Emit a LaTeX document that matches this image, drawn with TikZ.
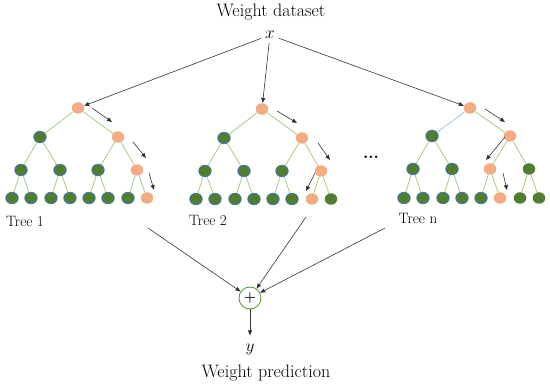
\documentclass[tikz,border=0pt]{standalone}
\usetikzlibrary{arrows.meta,shapes.geometric}
\definecolor{torange}{HTML}{F4AD82}
\definecolor{tgreen}{HTML}{4F7F2C}
\definecolor{tblue}{HTML}{4472C4}
\definecolor{tedge}{HTML}{A3CD86}
\definecolor{tbedge}{HTML}{9DC3E6}
\definecolor{cgreen}{HTML}{5A9A3C}
\begin{document}
\begin{tikzpicture}[x=1pt,y=-1pt,
  gn/.style={ellipse,fill=tgreen,draw=tblue,line width=0.8pt,minimum width=12.5pt,minimum height=11.5pt,inner sep=0pt},
  gp/.style={gn,draw=none},
  on/.style={gn,fill=torange,draw=none},
  tedgeline/.style={draw=tedge,line width=0.8pt},
  arr/.style={draw=black!80,line width=0.6pt,-{Triangle[length=5pt,width=4pt]}},
  lbl/.style={font=\fontsize{18}{21}\selectfont,inner sep=0pt},
  tlbl/.style={font=\fontsize{15}{18}\selectfont,inner sep=0pt}]
\useasboundingbox (0,0) rectangle (550,387);
% titles
\node[lbl] (title) at (271,12) {Weight dataset};
\node[lbl,font=\fontsize{16}{19}\selectfont,inner sep=4pt] (x) at (270,35) {$x$};
\node[lbl] (pred) at (266,373) {Weight prediction};
\node[lbl,font=\fontsize{16}{19}\selectfont,inner sep=3pt] (y) at (250,349) {$y$};
% Tree 1
\begin{scope}
\node[on] (a1) at (78,108) {};
\node[gn] (a2) at (40,137) {};
\node[on] (a3) at (118,137) {};
\node[gn] (a4) at (21,170) {};
\node[gn] (a5) at (60,170) {};
\node[gn] (a6) at (98,170) {};
\node[on] (a7) at (137,170) {};
\node[gn] (a8) at (12,198) {};
\node[gn] (a9) at (31,198) {};
\node[gn] (a10) at (51,198) {};
\node[gn] (a11) at (70,198) {};
\node[gn] (a12) at (89,198) {};
\node[gn] (a13) at (108,198) {};
\node[gn] (a14) at (128,198) {};
\node[on] (a15) at (147,198) {};
\end{scope}
% Tree 2
\begin{scope}[shift={(184,1)}]
\node[on] (b1) at (78,108) {};
\node[gn] (b2) at (40,137) {};
\node[on] (b3) at (118,137) {};
\node[gn] (b4) at (21,170) {};
\node[gn] (b5) at (60,170) {};
\node[gn] (b6) at (98,170) {};
\node[on] (b7) at (137,170) {};
\node[gn] (b8) at (12,198) {};
\node[gn] (b9) at (31,198) {};
\node[gn] (b10) at (51,198) {};
\node[gn] (b11) at (70,198) {};
\node[gn] (b12) at (89,198) {};
\node[gn] (b13) at (108,198) {};
\node[on] (b14) at (128,198) {};
\node[gp] (b15) at (147,198) {};
\end{scope}
% Tree n
\begin{scope}[shift={(392,0)}]
\node[on] (c1) at (78,108) {};
\node[gn] (c2) at (40,136) {};
\node[on] (c3) at (118,136) {};
\node[gn] (c4) at (21,169) {};
\node[gn] (c5) at (60,169) {};
\node[on] (c6) at (98,169) {};
\node[gp] (c7) at (137,169) {};
\node[gn] (c8) at (12,198) {};
\node[gn] (c9) at (31,198) {};
\node[gn] (c10) at (51,198) {};
\node[gn] (c11) at (70,198) {};
\node[gn] (c12) at (89,198) {};
\node[on] (c13) at (108,198) {};
\node[gp] (c14) at (128,198) {};
\node[gp] (c15) at (147,198) {};
\end{scope}
% tree edges
\foreach \t in {a,b,c}{
  \foreach \i in {2,...,15}{
    \pgfmathtruncatemacro\p{int(\i/2)}
    \ifnum\i=2 \if c\t \def\ecol{tbedge}\else\def\ecol{tedge}\fi \else\def\ecol{tedge}\fi
    \draw[tedgeline,draw=\ecol] (\t\p) -- (\t\i);
  }
}
% tree labels
\node[tlbl] (l1) at (25,221) {Tree 1};
\node[tlbl] (l2) at (208,220) {Tree 2};
\node[tlbl] (l3) at (418,218) {Tree n};
\node[tlbl,font=\fontsize{17}{19}\selectfont\bfseries] (dots) at (371,157) {...};
% input arrows
\draw[arr] (x) -- (a1);
\draw[arr] (x) -- (b1);
\draw[arr] (x) -- (c1);
% path arrows
\coordinate (p1s) at (92,108); \coordinate (p1e) at (112,122);
\coordinate (p2s) at (133,142); \coordinate (p2e) at (146,158);
\coordinate (p3s) at (149,173); \coordinate (p3e) at (154,190);
\coordinate (q1s) at (277,111); \coordinate (q1e) at (297,123);
\coordinate (q2s) at (318,143); \coordinate (q2e) at (330,160);
\coordinate (q3s) at (315,173); \coordinate (q3e) at (306,191);
\coordinate (r1s) at (485,109); \coordinate (r1e) at (505,122);
\coordinate (r2s) at (505,137); \coordinate (r2e) at (486,160);
\coordinate (r3s) at (503,173); \coordinate (r3e) at (507,190);
\foreach \s in {p1,p2,p3,q1,q2,q3,r1,r2,r3}{\draw[arr] (\s s) -- (\s e);}
% sum
\node[circle,draw=cgreen,line width=0.9pt,minimum size=22pt,inner sep=0pt,font=\fontsize{14}{16}\selectfont\bfseries] (plus) at (250,298) {+};
\coordinate (s1) at (148,228);
\coordinate (s2) at (306,217);
\coordinate (s3) at (385,228);
\draw[arr] (s1) -- (plus);
\draw[arr] (s2) -- (plus);
\draw[arr] (s3) -- (plus);
\draw[arr,shorten >=5pt] (plus) -- (y);
\end{tikzpicture}
\end{document}
